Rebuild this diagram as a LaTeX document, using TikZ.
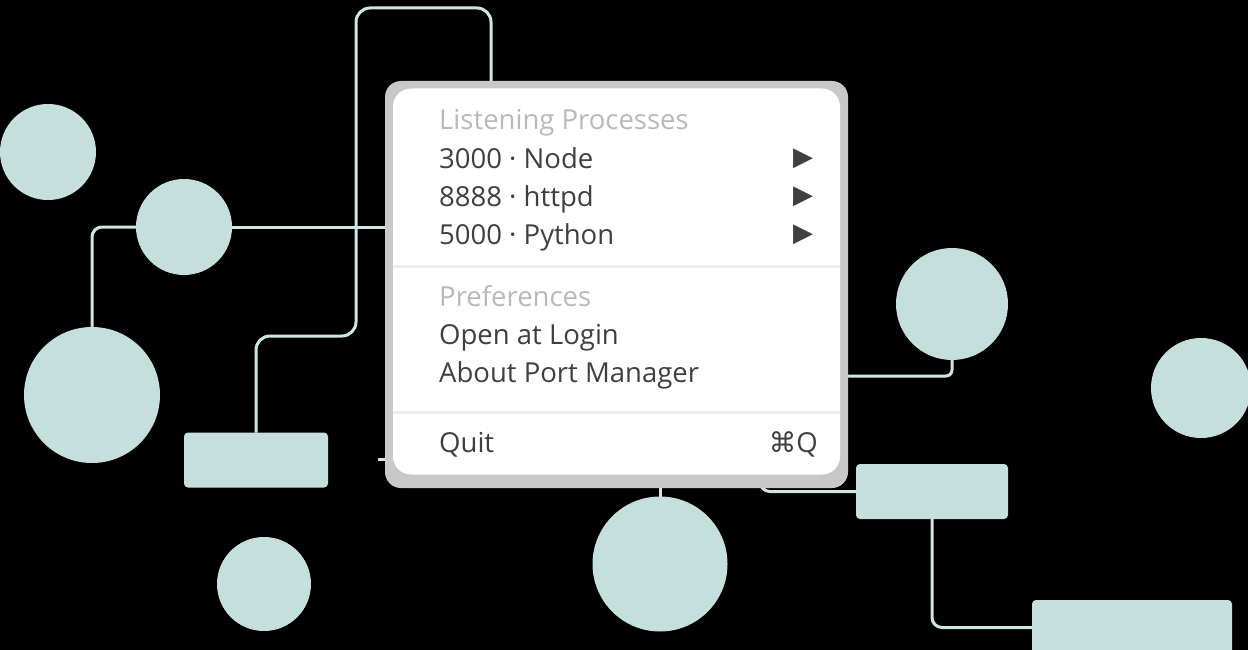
\documentclass[tikz,border=0pt]{standalone}
\usepackage{fontspec}
\usepackage{xcolor}
\usepackage{tikz}
\usetikzlibrary{calc,positioning}
\setmainfont{Open Sans}
\newfontfamily\symfont{DejaVu Sans}
\definecolor{blobteal}{HTML}{C5DFDD}
\definecolor{wireteal}{HTML}{CFE6E3}
\definecolor{framegray}{HTML}{C8C8C8}
\definecolor{ink}{HTML}{3F3F3F}
\definecolor{faint}{HTML}{B9B9B9}
\definecolor{rulegray}{HTML}{ECECEC}
\tikzset{
blob/.style={
    circle, fill=blobteal, draw=none,
    inner sep=0pt, outer sep=0pt
  },
slab/.style={
    rectangle, rounded corners=4pt, fill=blobteal,
    inner sep=0pt, outer sep=0pt
  }
}

\begin{document}
\begin{tikzpicture}[x=1pt,y=-1pt,
 wire/.style={draw=wireteal, line width=3pt, rounded corners=14pt},
 item/.style={anchor=base west, inner sep=0pt, text=ink,
        font=\fontsize{27.5}{30}\selectfont},
 head/.style={item, text=faint},
 arrowtip/.style={inner sep=0pt, text=ink, font=\symfont\fontsize{26}{27}\selectfont},
 rulerline/.style={draw=rulegray, line width=3pt}
  ]
\fill[black] (0,0) rectangle (1248,650);
\useasboundingbox (0,0) rectangle (1248,650);

\node[blob, minimum size=96pt]  (c1) at (48,152) {};
\node[blob, minimum size=96pt]  (c2) at (184,227) {};
\node[blob, minimum size=136pt] (c3) at (92,395) {};
\node[blob, minimum size=94pt]  (c4) at (264,584) {};
\node[blob, minimum size=135pt] (c5) at (660,564) {};
\node[blob, minimum size=112pt] (c6) at (952,304) {};
\node[blob, minimum size=100pt] (c7) at (1201,388) {};
\node[slab, minimum width=144pt, minimum height=55pt] (r1) at (256,460) {};
\node[slab, minimum width=152pt, minimum height=55pt] (r2) at (932,491.5) {};
\node[slab, minimum width=200pt, minimum height=55pt] (r3) at (1132,627.5) {};

\coordinate (menutop) at (491,84);
\coordinate (menuleft) at (386,227);
\coordinate (stub) at (378,459);
\coordinate (rjoin) at (848,376);
\coordinate (qjoin) at (760,478);

\draw[wire] (r1.north) |- (356,336) |- (491,8) -- (menutop);
\draw[wire, rounded corners=10pt] (c2.west) -| (c3.north);
\draw[wire] (c2.east) -- (menuleft);
\draw[wire] (stub) -- ++(14,0);
\draw[wire, rounded corners=6pt] (c6.south) |- (rjoin);
\draw[wire, rounded corners=10pt] (r2.west) -| (qjoin);
\draw[wire, rounded corners=10pt] (r2.south) |- (r3.west);
\draw[wire] (c5.north) -- ++(0,-12);

\node[rectangle, rounded corners=16pt, fill=framegray, inner sep=0pt,
      minimum width=463pt, minimum height=407pt] (menu) at (616.5,284.5) {};
\node[rectangle, rounded corners=18pt, fill=white, inner sep=0pt,
      minimum width=447pt, minimum height=386pt] (sheet) at (616.5,281.5) {};

\draw[rulerline] (sheet.west |- 0,266) -- (sheet.east |- 0,266);
\draw[rulerline] (sheet.west |- 0,412) -- (sheet.east |- 0,412);

\node[head] (lp)    at (439,130) {Listening Processes};
\node[item] (node)  at (439,168) {3000 · Node};
\node[item] (httpd) at (439,206) {8888 · httpd};
\node[item] (py)    at (439,244) {5000 · Python};
\node[head] (pref)  at (439,306) {Preferences};
\node[item] (login) at (439,344) {Open at Login};
\node[item] (about) at (439,382) {About Port Manager};
\node[item] (quit)  at (439,452) {Quit};
\node[item, anchor=base east] (key) at (818,452) {{\symfont ⌘}Q};

\node[arrowtip] (t1) at (803,159) {▶};
\node[arrowtip] (t2) at (803,197) {▶};
\node[arrowtip] (t3) at (803,235) {▶};
\end{tikzpicture}
\end{document}
